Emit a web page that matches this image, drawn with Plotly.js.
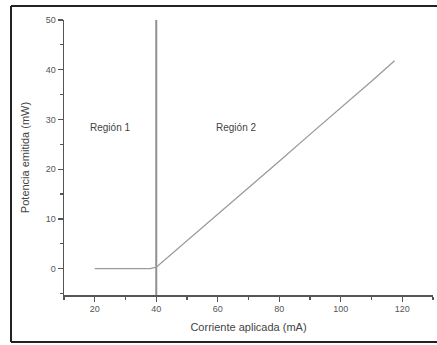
<!DOCTYPE html>
<html>
<head>
<meta charset="utf-8">
<script src="https://cdn.plot.ly/plotly-3.0.1.min.js"></script>
<style>html,body{margin:0;padding:0;background:#fff;}#chart{width:437px;height:345px;}</style>
</head>
<body>
<div id="chart"></div>
<script>
// Data
const currentmA = [20, 38, 40, 50, 60, 70, 80, 90, 100, 110, 117.5];
const powermW   = [0, 0, 0.3, 5.6, 10.9, 16.3, 21.6, 27.0, 32.3, 37.7, 41.8];
const thresholdX = [40, 40];
const thresholdY = [-5.3, 50];
const regionLabels = ["Región 1", "Región 2"];
const regionX = [25, 66];
const regionY = [28.4, 28.4];
const xTicks = [20, 40, 60, 80, 100, 120];
const yTicks = [0, 10, 20, 30, 40, 50];

const font = "Liberation Sans, Arial, sans-serif";

const traces = [
  {x: thresholdX, y: thresholdY, mode: "lines", line: {color: "#909090", width: 2}, hoverinfo: "skip"},
  {x: currentmA, y: powermW, mode: "lines", line: {color: "#9a9a9a", width: 1.3}}
];

const layout = {
  width: 437, height: 345,
  margin: {l: 64, r: 4, t: 20, b: 50},
  paper_bgcolor: "#fff", plot_bgcolor: "#fff",
  showlegend: false,
  font: {family: font, size: 9, color: "#444"},
  xaxis: {
    range: [10, 130], tickvals: xTicks, ticktext: xTicks.map(String),
    showline: true, linecolor: "#555", linewidth: 1.5, showgrid: false, zeroline: false,
    ticks: "outside", ticklen: 5, tickcolor: "#555", tickwidth: 1.2,
    minor: {dtick: 10, ticks: "outside", ticklen: 3, tickcolor: "#555", tickwidth: 1.2, showgrid: false},
    tickfont: {size: 9, color: "#555"},
    title: {text: "Corriente aplicada (mA)", font: {size: 11, color: "#444"}, standoff: 10}
  },
  yaxis: {
    range: [-5.3, 50], tickvals: yTicks, ticktext: yTicks.map(String),
    showline: true, linecolor: "#555", linewidth: 1.5, showgrid: false, zeroline: false,
    ticks: "outside", ticklen: 5, tickcolor: "#555", tickwidth: 1.2,
    minor: {dtick: 5, ticks: "outside", ticklen: 3, tickcolor: "#555", tickwidth: 1.2, showgrid: false},
    tickfont: {size: 9, color: "#555"},
    title: {text: "Potencia emitida (mW)", font: {size: 11, color: "#444"}, standoff: 14}
  },
  annotations: regionLabels.map((t, i) => ({
    x: regionX[i], y: regionY[i], xref: "x", yref: "y", text: t, showarrow: false,
    font: {size: 10, color: "#444", family: font}
  })),
  shapes: [
    {type: "line", xref: "paper", yref: "paper", x0: -0.1436, x1: -0.1436, y0: -0.171, y1: 1.051, line: {color: "#222", width: 2}},
    {type: "line", xref: "paper", yref: "paper", x0: -0.1436, x1: 1.02, y0: 1.051, y1: 1.051, line: {color: "#222", width: 2}},
    {type: "line", xref: "paper", yref: "paper", x0: -0.1436, x1: 1.02, y0: -0.171, y1: -0.171, line: {color: "#222", width: 2}}
  ]
};

Plotly.newPlot("chart", traces, layout, {displayModeBar: false, staticPlot: true});
</script>
</body>
</html>
